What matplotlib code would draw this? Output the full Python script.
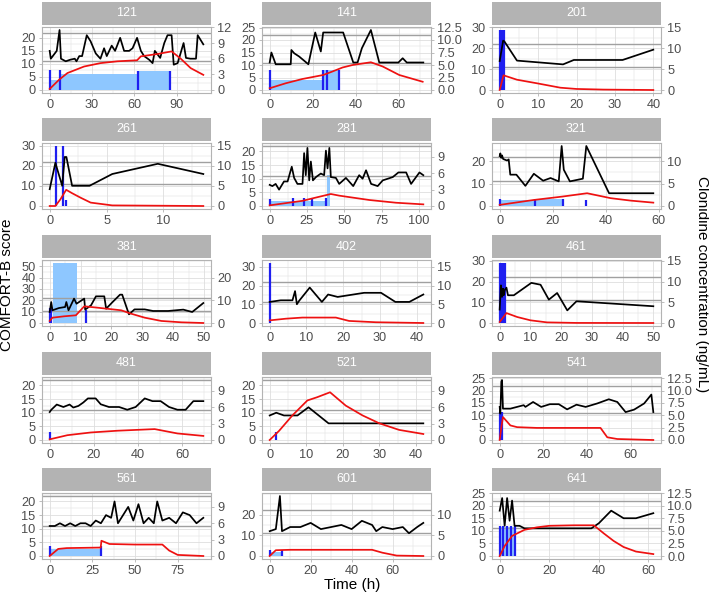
import matplotlib
matplotlib.use("Agg")
import matplotlib.pyplot as plt
from matplotlib.ticker import AutoMinorLocator
import numpy as np

plt.rcParams['font.family'] = ['Liberation Sans', 'DejaVu Sans']

patients = [121, 141, 201, 261, 281, 321, 381, 402, 461, 481, 521, 541, 561, 601, 641]

# COMFORT-B score observations (time h, score)
comfort_t = {
    121: [0, 0.8, 5, 7, 8, 11.4, 14.5, 17.8, 19, 21, 23, 26.3, 29, 32.7, 36, 38.6, 40.5, 44, 46.4, 50, 52.8, 56.4, 58.8, 62, 64.7, 67, 70.6, 73, 74.6, 78.4, 81.3, 83.6, 86.5, 88, 90.8, 95, 96.7, 99.8, 103.8, 105, 109],
    141: [0, 0.8, 2.8, 9.8, 10.1, 11.4, 13.7, 18, 21.2, 23.8, 24.9, 34.2, 38.9, 40.9, 42.9, 47.1, 51, 59.9, 61.9, 63.8, 71.5],
    201: [0, 0.9, 1.2, 4.5, 16.5, 19.3, 32, 40],
    261: [0, 0.5, 1.1, 1.32, 1.47, 1.97, 3.5, 5.5, 9.5, 13.5],
    281: [0, 1.8, 4, 6.3, 9.6, 12, 14.8, 16.4, 18.6, 22, 23.1, 24.2, 25.3, 26.5, 27.6, 29, 31, 34.3, 36.5, 37.7, 38.8, 40, 41, 44.4, 46.6, 51.1, 56, 60, 62.3, 64.6, 68, 72.4, 75.8, 82.5, 86.3, 91.5, 94.8, 100.4, 103],
    321: [0, 0.25, 0.6, 0.9, 1.3, 2.8, 3.4, 4, 6.3, 9.7, 12.9, 16.4, 19.2, 22.3, 23.4, 24.2, 26.5, 31.4, 32.7, 41.3, 58],
    381: [0, 0.5, 0.9, 3, 5, 5.4, 6.1, 7.9, 8.7, 11.2, 11.5, 13.4, 15, 17.7, 18.3, 20.4, 22.8, 23.5, 25.7, 27.5, 30.8, 33.5, 38.4, 43.3, 46.2, 49.8],
    402: [0, 3, 6.2, 6.9, 7.4, 8, 10.9, 14.2, 15.9, 18.5, 25.7, 30.3, 34.2, 38, 41.8],
    461: [0, 0.4, 0.76, 1.1, 1.3, 1.6, 2.2, 2.7, 4.6, 10.3, 13.3, 16, 18.7, 22, 25, 50],
    481: [0, 0.75, 3.2, 6.2, 9, 10.7, 13, 15.2, 17.3, 20.8, 23.1, 26.8, 31.4, 35.1, 38.9, 43, 46.5, 50.2, 54, 57.8, 61.5, 65, 69.5],
    521: [0, 1.8, 3.9, 7.6, 10.6, 16.1, 42],
    541: [0, 0.3, 0.77, 1.07, 1.5, 4.9, 11, 11.8, 15.3, 19, 23, 27.1, 30.9, 35.2, 39.4, 44.7, 50, 53.9, 57.7, 61.6, 66.2, 69.5, 70.4],
    561: [0, 3, 6, 9, 12, 15, 18, 21, 24, 27, 30, 33, 36, 38, 40, 43, 46, 49, 52, 55, 58, 61, 63, 66, 70, 74, 78, 82, 86, 90],
    601: [0, 3, 5, 6, 10, 15, 20, 25, 30, 35, 40, 45, 50, 52, 55, 60, 65, 68, 72, 75],
    641: [0, 1, 2, 3, 4, 5, 6, 8, 10, 15, 20, 30, 37, 40, 45, 50, 55, 62],
}
comfort_v = {
    121: [15, 12, 15, 23, 12, 11, 11.6, 12, 11, 13, 13, 21, 18.7, 14, 12, 16, 13, 17, 15, 20, 15, 15, 16, 20, 15, 13, 11.6, 10.3, 15, 12.3, 18, 21, 21, 9.7, 10.3, 18, 12.3, 12, 12, 21, 17.5],
    141: [11, 15, 10.3, 10.3, 16, 14.7, 13.4, 10.3, 23, 15.4, 23, 23, 11, 11, 16.7, 24, 11, 11, 12.7, 11, 11],
    201: [13.8, 23.5, 23.2, 14, 12.2, 14.3, 14.3, 19.2],
    261: [8.4, 21.6, 10.1, 24.5, 24.5, 10.1, 10.1, 16, 21.1, 16],
    281: [7.75, 7.3, 8.1, 6, 9, 9, 14.4, 10.3, 8.1, 8.1, 19.4, 11.3, 21.3, 9.4, 16.3, 9.4, 10.6, 11.9, 11.3, 20.3, 13.8, 21.3, 10.6, 10.3, 8.1, 10.3, 7.3, 11.3, 10, 13.1, 8.1, 7.3, 9.4, 10.6, 12.3, 12.3, 8.1, 12.3, 11.3],
    321: [22.3, 23.5, 21.5, 22.6, 21, 20.3, 20.8, 14, 14, 9, 14.4, 11.3, 12.5, 11, 26.8, 16.2, 11, 12.2, 26.8, 5.7, 5.7],
    381: [9.7, 18.5, 11.2, 13.2, 14.1, 18.5, 11.2, 21.5, 17, 21.5, 11.8, 15.6, 23.5, 23.5, 12.6, 18.5, 25, 25, 7.6, 12, 12, 10.6, 10.6, 11.8, 9.7, 17.6],
    402: [11.25, 12.1, 12.1, 17, 10, 11.8, 18.9, 11.25, 15.2, 13.9, 16.1, 16.1, 11.25, 11.25, 15.2],
    461: [6.5, 18.2, 12.6, 16.6, 13.4, 15.8, 17.1, 13.4, 13.4, 19.4, 18.5, 11.3, 14.5, 6.1, 10.5, 8.1],
    481: [10.25, 11.1, 13, 12.1, 13, 11.9, 12.5, 13.75, 15.25, 15.25, 13.1, 12.1, 12.1, 11.1, 12.1, 15.25, 14.25, 14.25, 12.1, 11.1, 11.1, 14.25, 14.25],
    521: [9, 10, 9, 9, 12, 6.1, 6.1],
    541: [13.4, 10.7, 23.6, 24.3, 12.7, 12.7, 14.1, 13.4, 15.4, 13.4, 14.5, 14.5, 12.4, 14.3, 13.4, 14.8, 16.5, 15.4, 11.3, 12.3, 14.8, 18.4, 11.3],
    561: [11, 11, 12, 11, 12, 11, 12, 12, 11, 13, 12, 15, 14, 20, 12, 15, 18, 13, 19, 12, 14, 12, 20, 13, 14, 12, 16, 15, 12, 14],
    601: [12, 13, 29, 12, 14, 14, 16, 13, 14, 15, 13, 17, 15, 12, 14, 13, 14, 11, 14, 16],
    641: [18, 23, 12, 23, 14, 22, 12, 12, 11, 11, 11, 11, 11, 13, 18, 15, 15, 17],
}

# Clonidine concentration (time h, ng/mL)
conc_t = {
    121: [0, 6.6, 12.6, 24.4, 36, 48, 62, 64.7, 76.5, 86.5, 93, 100, 109],
    141: [0, 7.5, 15.2, 24.9, 29.2, 33.9, 38.6, 47.1, 52.6, 60.3, 71.2],
    201: [0, 1, 4.5, 9.7, 15.8, 20, 27, 40],
    261: [0, 0.5, 0.95, 1.45, 1.97, 2.7, 3.6, 5.5, 13.5],
    281: [0, 22, 31, 41, 46.6, 66.8, 84.7, 103],
    321: [0, 12.9, 23.6, 33, 41.9, 49.5, 58],
    381: [0, 0.9, 4.7, 8.5, 11.2, 15.5, 23.2, 26.4, 30.8, 36.2, 42.7, 49.8],
    402: [0, 4.4, 8.9, 18, 21.6, 28.9, 41.8],
    461: [0, 2.2, 5.7, 10, 15.4, 25, 50],
    481: [0, 8, 18.6, 30.6, 47.5, 57.8, 69.5],
    521: [0, 2.6, 6.2, 10.3, 13, 16.5, 20.8, 25.4, 30, 35.4, 42],
    541: [0, 0.77, 1.5, 4.9, 8, 17, 46.2, 49.3, 53.9, 70.4],
    561: [0, 5, 10, 20, 29.9, 30.3, 35, 50, 66, 70, 75, 90],
    601: [0, 3, 10, 50, 55, 62, 75],
    641: [0, 2, 5, 10, 15, 20, 30, 38, 42, 46, 50, 55, 62],
}
conc_v = {
    121: [0.2, 1.95, 3.25, 4.5, 5.15, 5.5, 5.7, 6.45, 6.9, 7.4, 6.0, 4.2, 2.9],
    141: [0.35, 1.35, 2.2, 3.0, 3.7, 4.5, 5.0, 5.55, 4.7, 3.0, 1.65],
    201: [0, 3.5, 2.45, 1.6, 0.55, 0.25, 0.1, 0],
    261: [0, 0, 1.7, 4.05, 3.2, 2.1, 0.85, 0.15, 0],
    281: [0.12, 0.95, 1.55, 2.2, 1.9, 1.1, 0.6, 0.3],
    321: [0.25, 1.35, 2.1, 2.85, 1.75, 1.2, 0.75],
    381: [0.9, 2.35, 2.95, 3.4, 7.35, 6.75, 5.6, 4.1, 2.35, 0.9, 0.3, 0],
    402: [0.7, 1.15, 1.45, 1.45, 0.55, 0.2, 0],
    461: [0.25, 2.4, 1.45, 0.65, 0.15, 0.02, 0],
    481: [0.12, 0.88, 1.38, 1.7, 2.0, 1.2, 0.75],
    521: [0, 1.7, 4.5, 7.25, 7.85, 8.75, 6.3, 4.5, 3.05, 1.85, 1.1],
    541: [0, 2.6, 4.65, 2.95, 2.6, 2.45, 2.45, 0.55, 0.2, 0],
    561: [0, 1.3, 1.45, 1.5, 1.55, 2.8, 2.2, 2.1, 2.1, 1.0, 0.2, 0.0],
    601: [0, 1.4, 1.5, 1.5, 0.8, 0.1, 0],
    641: [0, 2, 4, 5.2, 5.7, 6, 6.1, 6.1, 4.5, 3, 1.8, 0.9, 0.4],
}

# Bolus doses (time h, bar height in score units)
dose_t = {
    121: [0, 7, 62.8, 85.5], 141: [0.3, 24.9, 26.8, 32.4], 201: [0, 0.35, 0.7, 1.0],
    261: [0.58, 1.2, 1.41], 281: [0, 15.5, 23.3, 28.3, 37.7], 321: [0.3, 13.2, 23.8, 32.4],
    381: [0, 0.5, 11.7], 402: [0], 461: [0, 0.4, 1.2, 1.6], 481: [0], 521: [1.8],
    541: [0.2, 1.2], 561: [0, 30], 601: [0, 6], 641: [0, 1.5, 3, 4.5, 6],
}
dose_h = {
    121: [7.7, 7.7, 7.4, 7.4], 141: [8, 8, 8, 8], 201: [28.5, 28.5, 28.5, 28.5],
    261: [30, 30, 3], 281: [2.5, 3, 3, 3, 3], 321: [3, 3, 3, 2.5],
    381: [13, 13, 11.8], 402: [32], 461: [29, 29, 29, 29], 481: [3], 521: [3],
    541: [11.3, 11.3], 561: [3.5, 3.5], 601: [3, 3], 641: [12, 12, 12, 12, 12],
}

# Continuous infusions (start h, end h, height in score units)
inf_start = {121: [0, 7, 62.8], 141: [0, 24.9], 281: [0, 38.5], 321: [0, 13.2],
             381: [1], 561: [0], 601: [0], 641: [0]}
inf_end = {121: [7, 62.8, 85.5], 141: [24.9, 32.4], 281: [38.5, 40.5], 321: [13.2, 24.2],
           381: [8.7], 561: [30], 601: [6], 641: [6]}
inf_h = {121: [4, 6, 7.3], 141: [4, 8], 281: [2, 11.5], 321: [2.6, 3.0],
         381: [52.9], 561: [2.5], 601: [2], 641: [11.7]}

# Axis ticks
x_ticks = {
    121: [0, 30, 60, 90], 141: [0, 20, 40, 60], 201: [0, 10, 20, 30, 40], 261: [0, 5, 10],
    281: [0, 25, 50, 75, 100], 321: [0, 20, 40, 60], 381: [0, 10, 20, 30, 40, 50],
    402: [0, 10, 20, 30, 40], 461: [0, 10, 20, 30, 40, 50], 481: [0, 20, 40, 60],
    521: [0, 10, 20, 30, 40], 541: [0, 20, 40, 60], 561: [0, 25, 50, 75],
    601: [0, 20, 40, 60], 641: [0, 20, 40, 60],
}
left_ticks = {
    121: [0, 5, 10, 15, 20], 141: [0, 5, 10, 15, 20, 25], 201: [0, 10, 20, 30],
    261: [0, 10, 20, 30], 281: [0, 5, 10, 15, 20], 321: [0, 10, 20],
    381: [0, 10, 20, 30, 40, 50], 402: [0, 10, 20, 30], 461: [0, 10, 20, 30],
    481: [0, 5, 10, 15, 20], 521: [0, 5, 10, 15, 20], 541: [0, 5, 10, 15, 20, 25],
    561: [0, 5, 10, 15, 20], 601: [0, 10, 20], 641: [0, 5, 10, 15, 20, 25],
}
right_ticks = {
    121: [0, 3, 6, 9, 12], 141: [0, 2.5, 5, 7.5, 10, 12.5], 201: [0, 5, 10, 15],
    261: [0, 5, 10, 15], 281: [0, 3, 6, 9], 321: [0, 5, 10], 381: [0, 10, 20],
    402: [0, 5, 10, 15], 461: [0, 5, 10, 15], 481: [0, 3, 6, 9], 521: [0, 3, 6, 9],
    541: [0, 2.5, 5, 7.5, 10, 12.5], 561: [0, 3, 6, 9], 601: [0, 5, 10],
    641: [0, 2.5, 5, 7.5, 10, 12.5],
}
ref_lines = [11, 22]
SEC_RATIO = 2.0  # score units per ng/mL on the secondary axis

# ---------------- layout ----------------
W, H = 709, 598
fig = plt.figure(figsize=(W / 100, H / 100), dpi=100)

col_x = [42, 262, 492]
row_y = [2, 118, 235, 352, 468]
PW, SH, PH, GAP = 169, 23, 66, 2

GREY70 = '#B3B3B3'
GREY87 = '#DEDEDE'
GREY30 = '#4D4D4D'
TICK_FS = 9.2
TITLE_FS = 11


def rect(x, y, w, h):
    return [x / W, 1 - (y + h) / H, w / W, h / H]


def fmt(ticks):
    if any(abs(t - round(t)) > 1e-9 for t in ticks):
        return [f"{t:.1f}" for t in ticks]
    return [f"{int(round(t))}" for t in ticks]


for i, pid in enumerate(patients):
    r, c = divmod(i, 3)
    x0, y0 = col_x[c], row_y[r]

    sax = fig.add_axes(rect(x0, y0, PW, SH))
    sax.set_facecolor(GREY70)
    sax.set_xticks([]); sax.set_yticks([])
    for s in sax.spines.values():
        s.set_visible(False)
    sax.text(0.5, 0.5, str(pid), color='white', fontsize=9,
             ha='center', va='center', transform=sax.transAxes)

    ax = fig.add_axes(rect(x0, y0 + SH + GAP, PW, PH))
    ax.set_facecolor('white')

    # limits (ggplot-like 5% expansion)
    tmax = max(comfort_t[pid] + conc_t[pid] + dose_t[pid] + inf_end.get(pid, []))
    ymax = max(comfort_v[pid] + [v * SEC_RATIO for v in conc_v[pid]] + dose_h[pid]
               + inf_h.get(pid, []) + ref_lines)
    ax.set_xlim(-0.05 * tmax, 1.05 * tmax)
    ylo, yhi = -0.05 * ymax, 1.05 * ymax
    ax.set_ylim(ylo, yhi)

    ax.set_xticks(x_ticks[pid])
    ax.set_yticks(left_ticks[pid])
    ax.set_yticklabels(fmt(left_ticks[pid]))
    ax.xaxis.set_minor_locator(AutoMinorLocator(2))
    ax.yaxis.set_minor_locator(AutoMinorLocator(2))
    ax.set_axisbelow(True)
    ax.grid(which='major', color=GREY87, lw=0.6)
    ax.grid(which='minor', color=GREY87, lw=0.35)
    ax.tick_params(which='minor', length=0)
    ax.tick_params(which='major', length=2.5, width=0.6, color=GREY70,
                   labelcolor=GREY30, labelsize=TICK_FS, pad=2)
    for s in ax.spines.values():
        s.set_color(GREY70); s.set_linewidth(0.8)

    # infusions
    for a, b, h in zip(inf_start.get(pid, []), inf_end.get(pid, []), inf_h.get(pid, [])):
        ax.bar(a, h, width=b - a, align='edge', color='#8EC7FF', lw=0, zorder=1)
    # reference lines
    for yl in ref_lines:
        ax.axhline(yl, color='#A0A0A0', lw=1.0, zorder=1.5)
    # bolus doses
    ax.vlines(dose_t[pid], 0, dose_h[pid], color='#1F1FF0', lw=1.6, zorder=2)
    # COMFORT-B
    ax.plot(comfort_t[pid], comfort_v[pid], color='black', lw=1.25, zorder=3)

    ax2 = ax.twinx()
    ax2.set_ylim(ylo / SEC_RATIO, yhi / SEC_RATIO)
    ax2.set_yticks(right_ticks[pid])
    ax2.set_yticklabels(fmt(right_ticks[pid]))
    ax2.tick_params(length=2.5, width=0.6, color=GREY70, labelcolor=GREY30,
                    labelsize=TICK_FS, pad=2)
    for s in ax2.spines.values():
        s.set_visible(False)
    ax2.plot(conc_t[pid], conc_v[pid], color='#EE1111', lw=1.25, zorder=3)

fig.text(7 / W, 1 - 285 / H, 'COMFORT-B score', rotation=90, ha='center', va='center',
         fontsize=TITLE_FS, color='black')
fig.text(702 / W, 1 - 284 / H, 'Clonidine concentration (ng/mL)', rotation=270,
         ha='center', va='center', fontsize=TITLE_FS, color='black')
fig.text(352 / W, 1 - 585 / H, 'Time (h)', ha='center', va='center', fontsize=TITLE_FS,
         color='black')

fig.savefig('out.png', dpi=100)
